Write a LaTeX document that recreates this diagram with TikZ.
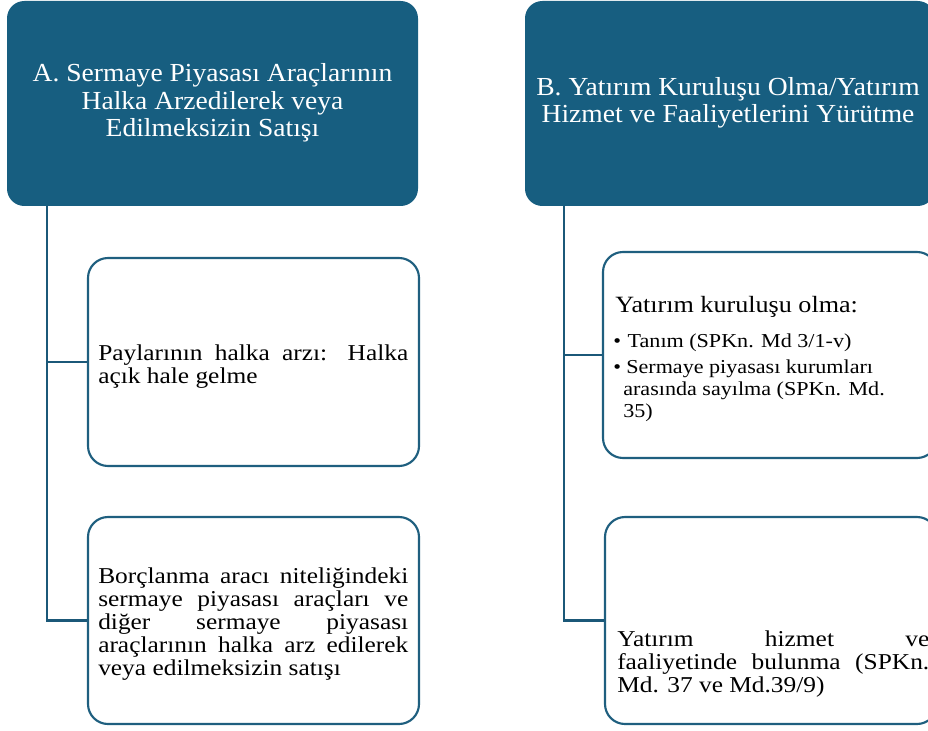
\documentclass[tikz,border=0pt]{standalone}
\usepackage{fontspec}
\setmainfont{Liberation Serif}
\newfontfamily\hdrf[FakeStretch=1.06]{Liberation Serif}
\newfontfamily\bodyf[FakeStretch=1.12]{Liberation Serif}
\usetikzlibrary{fit}
\definecolor{hdrblue}{HTML}{175E80}
\definecolor{edgeblue}{HTML}{1F5F7F}
\definecolor{linkblue}{HTML}{1B5878}
\begin{document}
\begin{tikzpicture}[x=0.75pt,y=-0.75pt,
  hdr/.style={draw=none, fill=hdrblue, rounded corners=13pt, inner sep=0pt},
  child/.style={draw=edgeblue, line width=1.6pt, fill=white, rounded corners=15pt, inner sep=0pt},
  conn/.style={draw=linkblue, line width=2pt},
  hdrtext/.style={text=white, align=center, font=\hdrf\fontsize{19.5}{20.5}\selectfont, inner sep=0pt},
  bodytext/.style={text=black, align=left, font=\bodyf\fontsize{17}{17.25}\selectfont, inner sep=0pt, anchor=base west}]
\useasboundingbox (0,0) rectangle (928,731);
% headers
\node[hdr, fit={(7,1)(418,206)}] (A) {};
\node[hdr, fit={(525,1)(935,206)}] (B) {};
\node[hdrtext] (At) at (212.5,103) {A. Sermaye Piyasası Araçlarının\\Halka Arzedilerek veya\\Edilmeksizin Satışı};
\node[hdrtext] (Bt) at (728,103) {B. Yatırım Kuruluşu Olma/Yatırım\\Hizmet ve Faaliyetlerini Yürütme};
% children
\node[child, fit={(88,258)(419,466)}] (a1) {};
\node[child, fit={(88,517)(419,724)}] (a2) {};
\node[child, fit={(603,252)(937,458)}] (b1) {};
\node[child, fit={(605,517)(937,724)}] (b2) {};
% connectors
\coordinate (ja) at (47,206);
\coordinate (jb) at (564,206);
\draw[conn] (ja) |- (a1.west);
\draw[conn] (ja) |- (a2.west);
\draw[conn] (jb) |- (b1.west);
\draw[conn] (jb) |- (b2.west);
% texts (anchor = baseline of the last line)
\node[bodytext] (a1t) at (98,383) {\makebox[232.5pt][s]{Paylarının halka arzı: Halka}\\açık hale gelme};
\node[bodytext] (a2t) at (98,675) {\makebox[232.5pt][s]{Borçlanma aracı niteliğindeki}\\\makebox[232.5pt][s]{sermaye piyasası araçları ve}\\\makebox[232.5pt][s]{diğer sermaye piyasası}\\\makebox[232.5pt][s]{araçlarının halka arz edilerek}\\veya edilmeksizin satışı};
\node[bodytext, font=\bodyf\fontsize{17.5}{17.5}\selectfont] (b1t) at (615,312) {Yatırım kuruluşu olma:};
\node[bodytext, font=\bodyf\fontsize{14.8}{16.5}\selectfont] (b1l) at (613,417) {\textbullet\hspace{5pt}Tanım (SPKn. Md 3/1-v)\\[3pt]\textbullet\hspace{4pt}Sermaye piyasası kurumları\\\hspace*{7.5pt}arasında sayılma (SPKn. Md.\\\hspace*{7.5pt}35)};
\node[bodytext] (b2t) at (617,692) {\makebox[234pt][s]{Yatırım hizmet ve}\\\makebox[234pt][s]{faaliyetinde bulunma (SPKn.}\\Md. 37 ve Md.39/9)};
\end{tikzpicture}
\end{document}
